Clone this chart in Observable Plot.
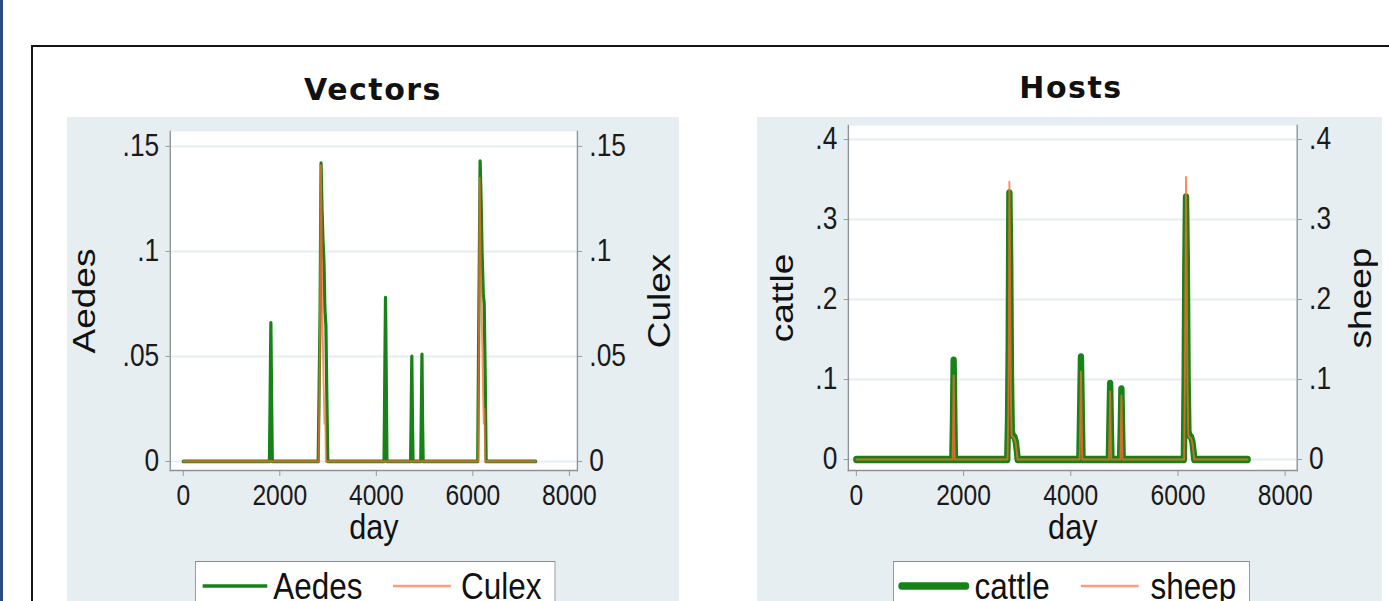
<!DOCTYPE html>
<html>
<head>
<meta charset="utf-8">
<script src="https://cdn.jsdelivr.net/npm/d3@7"></script>
<script src="https://cdn.jsdelivr.net/npm/@observablehq/plot@0.6"></script>
<style>
  html, body { margin: 0; padding: 0; background: #ffffff; }
  body { position: relative; width: 1389px; height: 601px; overflow: hidden; font-family: "Liberation Sans", Arial, sans-serif; }
  #blueline { position: absolute; left: 0; top: 0; width: 3px; height: 601px; background: #2c4a86; }
  #outer { position: absolute; left: 31px; top: 45px; width: 1420px; height: 620px; border: 2px solid #151515; box-sizing: border-box; }
  .panel { position: absolute; top: 117px; height: 500px; background: #e7eef2; }
  .title { position: absolute; font-family: "DejaVu Sans", sans-serif; font-weight: bold; font-size: 30px; line-height: 30px; letter-spacing: 1.5px; color: #111; transform: translateX(-50%); white-space: nowrap; }
  .chart { position: absolute; top: 117px; height: 440px; transform-origin: 0 0; transform: scaleX(0.85); }
  .chart svg { max-width: none !important; display: block; }
  .legend { position: absolute; top: 561px; height: 70px; background: #fff; border: 1.5px solid #8a8a8a; box-sizing: border-box; transform-origin: 0 0; transform: scaleX(0.85); }
  .legend span { position: absolute; top: 6px; font-size: 37px; line-height: 37px; color: #111; white-space: nowrap; }
  .legend svg { position: absolute; top: 14px; }
</style>
</head>
<body>
<div id="blueline"></div>
<div id="outer"></div>
<div class="panel" style="left:67px;width:612px;"></div>
<div class="panel" style="left:757px;width:625px;"></div>
<div class="title" style="left:373px;top:75px;">Vectors</div>
<div class="title" style="left:1071px;top:73px;">Hosts</div>
<div id="leftChart" class="chart" style="left:67px;width:720px;"></div>
<div id="rightChart" class="chart" style="left:757px;width:735px;"></div>

<div class="legend" style="left:195px;width:424px;">
  <svg width="80" height="20" style="left:6px;"><line x1="2" y1="10" x2="78" y2="10" stroke="#178217" stroke-width="3.4"/></svg>
  <span style="left:91px;">Aedes</span>
  <svg width="72" height="20" style="left:230px;"><line x1="2" y1="10" x2="70" y2="10" stroke="#ff9a7c" stroke-width="2.6"/></svg>
  <span style="left:312px;">Culex</span>
</div>
<div class="legend" style="left:893px;width:420px;">
  <svg width="86" height="20" style="left:4px;"><line x1="5" y1="10" x2="81" y2="10" stroke="#178217" stroke-width="7.5" stroke-linecap="round"/></svg>
  <span style="left:95px;">cattle</span>
  <svg width="72" height="20" style="left:218px;"><line x1="2" y1="10" x2="70" y2="10" stroke="#ff9a7c" stroke-width="2.4"/></svg>
  <span style="left:302px;">sheep</span>
</div>

<script>
// ---- data ----
const dayTicks = [0, 2000, 4000, 6000, 8000];
const vectorTicks = [0, 0.05, 0.1, 0.15];
const hostTicks = [0, 0.1, 0.2, 0.3, 0.4];

const aedesDay = [0,
  1785, 1800, 1815, 1830, 1845,
  2795, 2815, 2835, 2855, 2875, 2895, 2915, 2935, 2955, 2975, 2995,
  4160, 4175, 4190, 4205, 4220,
  4710, 4723, 4735, 4748, 4760,
  4920, 4933, 4945, 4957, 4970,
  6100, 6120, 6135, 6150, 6170, 6190, 6215, 6235, 6255, 6275,
  7300];
const aedesVal = [0,
  0, 0.03, 0.066, 0.03, 0,
  0, 0.035, 0.072, 0.142, 0.12, 0.105, 0.095, 0.072, 0.065, 0.03, 0,
  0, 0.04, 0.078, 0.04, 0,
  0, 0.025, 0.05, 0.02, 0,
  0, 0.025, 0.051, 0.02, 0,
  0, 0.06, 0.1, 0.143, 0.125, 0.1, 0.08, 0.075, 0.04, 0,
  0];

const culexDay = [0,
  2805, 2825, 2840, 2852, 2870, 2890, 2910, 2925, 2940, 2955,
  6110, 6128, 6140, 6160, 6180, 6205, 6225, 6240, 6255,
  7300];
const culexVal = [0,
  0, 0.04, 0.1, 0.141, 0.1, 0.06, 0.035, 0.018, 0.026, 0,
  0, 0.07, 0.135, 0.1, 0.075, 0.04, 0.018, 0.025, 0,
  0];

const cattleDay = [0,
  1790, 1803, 1815, 1828, 1840,
  2815, 2830, 2842, 2855, 2870, 2885, 2900, 2920, 2950, 2975, 2995, 3010,
  4160, 4175, 4190, 4205, 4220,
  4710, 4723, 4735, 4748, 4760,
  4920, 4933, 4945, 4957, 4970,
  6110, 6125, 6137, 6150, 6165, 6180, 6195, 6215, 6245, 6270, 6290, 6305,
  7300];
const cattleVal = [0,
  0, 0.05, 0.124, 0.05, 0,
  0, 0.05, 0.14, 0.333, 0.25, 0.1, 0.035, 0.03, 0.028, 0.022, 0.01, 0,
  0, 0.06, 0.128, 0.06, 0,
  0, 0.05, 0.095, 0.04, 0,
  0, 0.04, 0.088, 0.04, 0,
  0, 0.1, 0.24, 0.328, 0.25, 0.1, 0.035, 0.03, 0.028, 0.022, 0.01, 0,
  0];

const sheepDay = [0,
  1795, 1805, 1815, 1825, 1835,
  2820, 2835, 2845, 2855, 2868, 2882, 2897, 2920, 2950, 2975, 2995, 3008,
  4165, 4178, 4190, 4202, 4215,
  4715, 4725, 4735, 4745, 4755,
  4925, 4935, 4945, 4955, 4965,
  6115, 6128, 6140, 6150, 6163, 6178, 6193, 6215, 6245, 6270, 6290, 6303,
  7300];
const sheepVal = [0,
  0, 0.04, 0.105, 0.04, 0,
  0, 0.06, 0.15, 0.347, 0.22, 0.08, 0.03, 0.028, 0.026, 0.02, 0.008, 0,
  0, 0.05, 0.11, 0.05, 0,
  0, 0.04, 0.085, 0.035, 0,
  0, 0.035, 0.08, 0.035, 0,
  0, 0.09, 0.23, 0.353, 0.22, 0.09, 0.03, 0.028, 0.026, 0.02, 0.008, 0,
  0];

// ---- styling ----
const GREEN = "#178217";
const SALMON = "#ff6a33";
const AXIS = "#8d9296";
const GRID = "#e6edf1";
const FONT = "'Liberation Sans', Arial, sans-serif";

const toRows = (days, vals) => days.map((d, i) => ({day: d, value: vals[i]}));
const stataFmt = d => d === 0 ? "0" : String(d).replace(/^0\./, ".");

function panel({width, marginLeft, marginRight, marginTop, xDomain, yDomain, yTicks,
                leftLabel, rightLabel, leftLabelDx, rightLabelDx, seriesMarks}) {
  return Plot.plot({
    width, height: 440,
    marginLeft, marginRight, marginTop, marginBottom: 440 - 353,
    style: {background: "transparent", fontFamily: FONT, color: "#1a1a1a", overflow: "visible"},
    x: {domain: xDomain},
    y: {domain: yDomain},
    marks: [
      Plot.frame({fill: "white", stroke: null}),
      Plot.gridY({ticks: yTicks, stroke: GRID, strokeOpacity: 1, strokeWidth: 2}),
      Plot.frame({anchor: "left", stroke: AXIS, strokeWidth: 1.6}),
      Plot.frame({anchor: "right", stroke: AXIS, strokeWidth: 1.6}),
      Plot.frame({anchor: "bottom", stroke: AXIS, strokeWidth: 1.4}),
      Plot.axisY({ticks: yTicks, anchor: "left", tickSize: 5, tickPadding: 8, tickFormat: stataFmt,
                  fontSize: 31, stroke: AXIS, fill: "#1a1a1a", label: null}),
      Plot.axisY({ticks: yTicks, anchor: "right", tickSize: 5, tickPadding: 9, tickFormat: stataFmt,
                  fontSize: 31, stroke: AXIS, fill: "#1a1a1a", label: null}),
      Plot.axisX({ticks: dayTicks, tickSize: 6, tickPadding: 8, tickFormat: d => String(d),
                  fontSize: 29, stroke: AXIS, fill: "#1a1a1a", label: null}),
      Plot.text([leftLabel], {text: d => d, frameAnchor: "left", dx: leftLabelDx, rotate: -90,
                              textAnchor: "middle", lineAnchor: "middle", fontSize: 37, fill: "#111"}),
      Plot.text([rightLabel], {text: d => d, frameAnchor: "right", dx: rightLabelDx, rotate: -90,
                               textAnchor: "middle", lineAnchor: "middle", fontSize: 37, fill: "#111"}),
      Plot.text(["day"], {text: d => d, frameAnchor: "bottom", dy: 57,
                          textAnchor: "middle", lineAnchor: "middle", fontSize: 36, fill: "#111"}),
      ...seriesMarks
    ]
  });
}

const vectors = panel({
  width: 720, marginLeft: 121, marginRight: 120, marginTop: 14,
  xDomain: [-269, 8166], yDomain: [-0.0043, 0.1571], yTicks: vectorTicks,
  leftLabel: "Aedes", rightLabel: "Culex", leftLabelDx: -100, rightLabelDx: 97,
  seriesMarks: [
    Plot.line(toRows(aedesDay, aedesVal), {x: "day", y: "value", stroke: GREEN, strokeWidth: 3.8}),
    Plot.line(toRows(culexDay, culexVal), {x: "day", y: "value", stroke: SALMON, strokeWidth: 2.2, strokeOpacity: 0.75})
  ]
});
document.getElementById("leftChart").append(vectors);

const hosts = panel({
  width: 735, marginLeft: 107, marginRight: 100, marginTop: 8,
  xDomain: [-149, 8224], yDomain: [-0.01375, 0.4175], yTicks: hostTicks,
  leftLabel: "cattle", rightLabel: "sheep", leftLabelDx: -77, rightLabelDx: 75,
  seriesMarks: [
    Plot.line(toRows(cattleDay, cattleVal), {x: "day", y: "value", stroke: GREEN, strokeWidth: 7.5,
                                             strokeLinecap: "round", strokeLinejoin: "round"}),
    Plot.line(toRows(sheepDay, sheepVal), {x: "day", y: "value", stroke: SALMON, strokeWidth: 2.2, strokeOpacity: 0.8})
  ]
});
document.getElementById("rightChart").append(hosts);
</script>
</body>
</html>
